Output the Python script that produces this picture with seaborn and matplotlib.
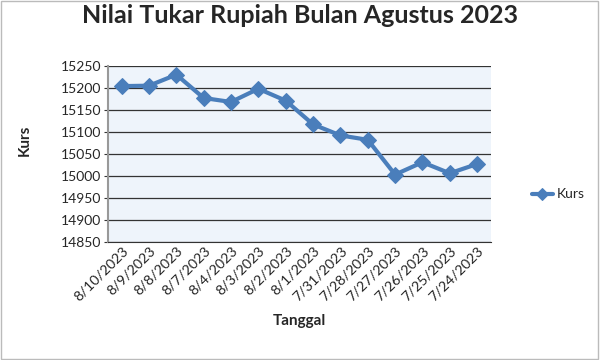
import matplotlib
matplotlib.use('Agg')
import matplotlib.pyplot as plt
import seaborn as sns
import pandas as pd

tanggal = ['8/10/2023', '8/9/2023', '8/8/2023', '8/7/2023', '8/4/2023', '8/3/2023', '8/2/2023',
           '8/1/2023', '7/31/2023', '7/28/2023', '7/27/2023', '7/26/2023', '7/25/2023', '7/24/2023']
kurs = [15204, 15205, 15230, 15177, 15168, 15198, 15171,
        15117, 15092, 15082, 15003, 15031, 15006, 15027]

df = pd.DataFrame({'Tanggal': tanggal, 'Kurs': kurs})

sns.set_style('white')
plt.rcParams['font.family'] = ['Lato', 'DejaVu Sans']

fig = plt.figure(figsize=(6, 3.6), dpi=100)
ax = fig.add_axes([0.18, 0.328, 0.638, 0.489])
ax.set_facecolor('#EEF4FB')

sns.lineplot(data=df, x='Tanggal', y='Kurs', marker='D', markersize=8, color='#4A7EBB',
             linewidth=3, markeredgecolor='#4A7EBB', label='Kurs', ax=ax, sort=False)

ax.set_ylim(14850, 15250)
ax.set_yticks(range(14850, 15251, 50))
ax.set_xlim(-0.5, len(tanggal) - 0.5)
ax.yaxis.grid(True, color='#333333', linewidth=0.9)
ax.set_axisbelow(True)
for s in ['top', 'right']:
    ax.spines[s].set_visible(False)
ax.spines['left'].set_color('#999999')
ax.spines['left'].set_linewidth(1.5)
ax.spines['bottom'].set_color('#333333')
ax.tick_params(axis='y', labelsize=10, length=3, left=True, color='#333333', pad=2)
ax.tick_params(axis='x', labelsize=10.3, length=0, pad=2)
plt.setp(ax.get_xticklabels(), rotation=45, ha='right', rotation_mode='anchor')

ax.set_xlabel('Tanggal', fontsize=11, fontweight='bold', labelpad=8)
ax.set_ylabel('Kurs', fontsize=11, fontweight='bold')
ax.yaxis.set_label_coords(-0.20, 0.58)
fig.suptitle('Nilai Tukar Rupiah Bulan Agustus 2023', fontsize=18, fontweight='bold', y=0.99)

ax.legend(loc='center left', bbox_to_anchor=(1.075, 0.27), frameon=False, fontsize=10,
          handlelength=1.5, handletextpad=0.3, markerscale=0.8)

fig.patches.append(plt.Rectangle((0.002, 0.003), 0.995, 0.993, transform=fig.transFigure,
                                 fill=False, edgecolor='#BBBBBB', linewidth=1))

fig.savefig('out.png', dpi=100)
